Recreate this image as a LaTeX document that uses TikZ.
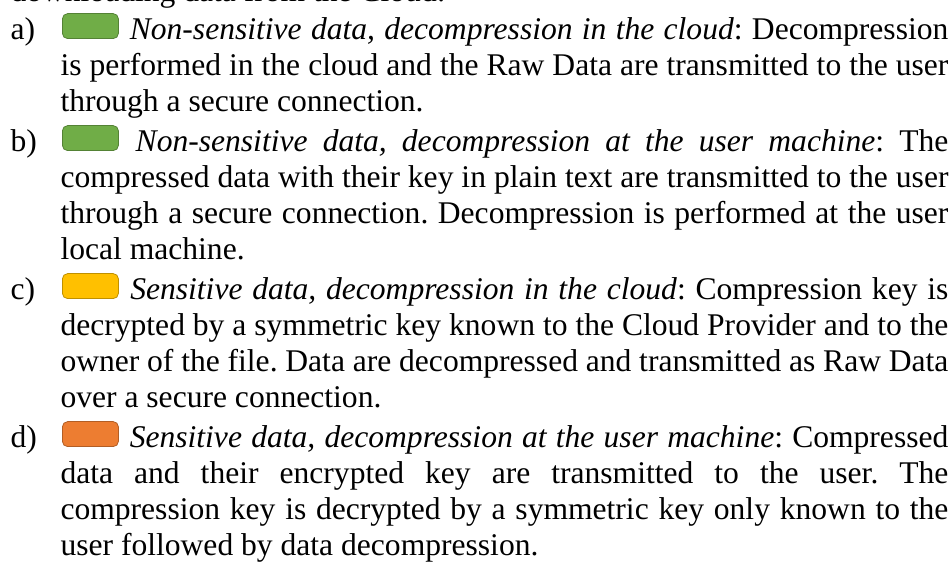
\documentclass[tikz,border=0pt]{standalone}
\usepackage{fontspec}
\setmainfont{Liberation Serif}
\hyphenpenalty=10000
\tolerance=9999
\frenchspacing
\definecolor{keygreen}{HTML}{70AD47}
\definecolor{keyyellow}{HTML}{FFC000}
\definecolor{keyorange}{HTML}{ED7D31}
\begin{document}
\begin{tikzpicture}[x=0.38pt, y=0.38pt,
% common options for the item texts:
item/.style = {text width=337.4pt, align=justify, anchor=base west,
            inner sep=0, font=\fontsize{12}{13.68}\selectfont\frenchspacing},
% common options for the item letters:
enum/.style = {anchor=base west, inner sep=0, font=\fontsize{12}{13.68}\selectfont},
% common options for the colour keys:
chip/.style = {draw, rounded corners=2pt, anchor=south west, line width=0.3pt,
            minimum width=21.3pt, minimum height=9.5pt, inner sep=0}]
\useasboundingbox (0,0) rectangle (950,-565);
\node[enum] (prev) at (10,-2) {downloading data from the Cloud:};
\node[enum] (la) at (10,-40) {a)};
\node[enum] (lb) at (10,-152) {b)};
\node[enum] (lc) at (10,-300) {c)};
\node[enum] (ld) at (10,-448) {d)};
\node[item] (ta) at (60,-40) {\hspace*{22.8pt} \textit{Non-sensitive data, decompression in the cloud}: Decompression\linebreak
is performed in the cloud and the Raw Data are transmitted to the user\linebreak
through a secure connection.};
\node[item] (tb) at (60,-152) {\hspace*{22.8pt} \textit{Non-sensitive data, decompression at the user machine}: The\linebreak
compressed data with their key in plain text are transmitted to the user\linebreak
through a secure connection. Decompression is performed at the user\linebreak
local machine.};
\node[item] (tc) at (60,-300) {\hspace*{22.8pt} \textit{Sensitive data, decompression in the cloud}: Compression key is\linebreak
decrypted by a symmetric key known to the Cloud Provider and to the\linebreak
owner of the file. Data are decompressed and transmitted as Raw Data\linebreak
over a secure connection.};
\node[item] (td) at (60,-448) {\hspace*{22.8pt} \textit{Sensitive data, decompression at the user machine}: Compressed\linebreak
data and their encrypted key are transmitted to the user. The\linebreak
compression key is decrypted by a symmetric key only known to the\linebreak
user followed by data decompression.};
\node[chip, fill=keygreen, draw=keygreen!75!black] (ka) at (62,-39) {};
\node[chip, fill=keygreen, draw=keygreen!75!black] (kb) at (62,-151) {};
\node[chip, fill=keyyellow, draw=keyyellow!75!black] (kc) at (62,-299) {};
\node[chip, fill=keyorange, draw=keyorange!75!black] (kd) at (62,-447) {};
\end{tikzpicture}
\end{document}
